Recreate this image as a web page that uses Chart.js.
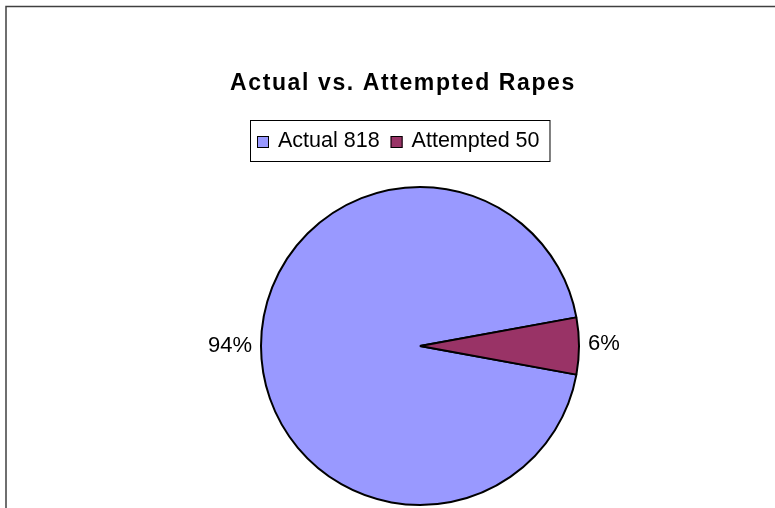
<!DOCTYPE html>
<html>
<head>
<meta charset="utf-8">
<script src="https://cdn.jsdelivr.net/npm/chart.js@4.4.1/dist/chart.umd.min.js"></script>
<style>
  body { margin: 0; background: #fff; }
  canvas { display: block; }
</style>
</head>
<body>
<canvas id="grafico" width="775" height="508"></canvas>
<script>
const categorias = ['Actual', 'Attempted'];
const valores = [818, 50];
const cores = ['#9999FF', '#993366'];
const titulo = 'Actual vs. Attempted Rapes';

const total = valores.reduce((a, b) => a + b, 0);
const fonte = '"Liberation Sans", Arial, sans-serif';

// titulo, legenda com caixa, moldura e rotulos de porcentagem
const extras = {
  id: 'extras',
  afterDraw(chart) {
    const ctx = chart.ctx;
    ctx.save();

    // moldura
    ctx.strokeStyle = '#404040';
    ctx.lineWidth = 1.5;
    ctx.beginPath();
    ctx.moveTo(6, 900);
    ctx.lineTo(6, 6.5);
    ctx.lineTo(900, 6.5);
    ctx.stroke();

    // titulo
    ctx.fillStyle = '#000';
    ctx.font = 'bold 23px ' + fonte;
    ctx.letterSpacing = '1.6px';
    ctx.textAlign = 'center';
    ctx.textBaseline = 'alphabetic';
    ctx.fillText(titulo, 403, 90);
    ctx.letterSpacing = '0px';

    // legenda
    ctx.font = '21.5px ' + fonte;
    ctx.textAlign = 'left';
    let x = 257;
    categorias.forEach((c, i) => {
      const texto = c + ' ' + valores[i];
      ctx.fillStyle = cores[i];
      ctx.fillRect(x, 136, 12, 12);
      ctx.strokeStyle = '#000';
      ctx.lineWidth = 1;
      ctx.strokeRect(x + 0.5, 136.5, 11, 11);
      ctx.fillStyle = '#000';
      ctx.fillText(texto, x + 21, 146.5);
      x += 21 + ctx.measureText(texto).width + 11;
    });
    ctx.strokeStyle = '#000';
    ctx.lineWidth = 1;
    ctx.strokeRect(250.5, 120.5, x - 250 - 1, 41);

    // porcentagens
    const meta = chart.getDatasetMeta(0);
    ctx.font = '22px ' + fonte;
    ctx.textBaseline = 'middle';
    meta.data.forEach((arco, i) => {
      const p = arco.getProps(['x', 'y', 'startAngle', 'endAngle', 'outerRadius']);
      const meio = (p.startAngle + p.endAngle) / 2;
      const r = p.outerRadius + 9;
      const tx = p.x + Math.cos(meio) * r;
      const ty = p.y + Math.sin(meio) * r;
      ctx.textAlign = Math.cos(meio) >= 0 ? 'left' : 'right';
      ctx.fillText(Math.round(valores[i] / total * 100) + '%', tx, ty - (Math.cos(meio) >= 0 ? 2 : 0));
    });

    ctx.restore();
  }
};

new Chart(document.getElementById('grafico'), {
  type: 'pie',
  data: {
    labels: categorias,
    datasets: [{
      data: valores,
      backgroundColor: cores,
      borderColor: '#000',
      borderWidth: 2,
      hoverOffset: 0
    }]
  },
  options: {
    responsive: false,
    animation: false,
    events: [],
    rotation: 90 + (valores[1] / total) * 180,
    layout: { padding: { top: 186, left: 65, right: 0, bottom: 2 } },
    plugins: {
      legend: { display: false },
      tooltip: { enabled: false }
    }
  },
  plugins: [extras]
});
</script>
</body>
</html>
